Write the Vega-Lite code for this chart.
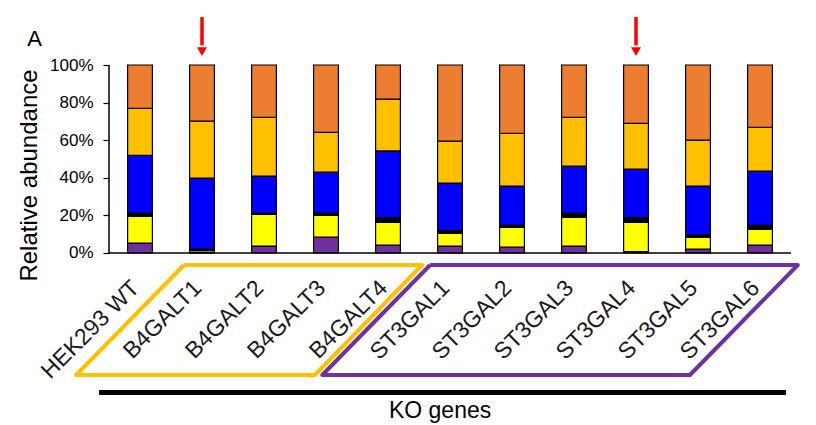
{
  "$schema": "https://vega.github.io/schema/vega-lite/v6.json",
  "width": 682,
  "height": 335,
  "autosize": {"type": "none"},
  "padding": {"left": 109, "top": 65, "right": 25, "bottom": 25},
  "background": "white",
  "config": {
    "view": {"stroke": null},
    "font": "Liberation Sans",
    "text": {"font": "Liberation Sans", "color": "black"}
  },
  "datasets": {
    "abundance": [
      {"gene": "HEK293 WT", "g1": 5.3, "g2": 14.2, "g3": 1.7, "g4": 30.8, "g5": 25.0, "g6": 23.0},
      {"gene": "B4GALT1", "g1": 0.2, "g2": 1.1, "g3": 0.8, "g4": 37.7, "g5": 30.3, "g6": 29.9},
      {"gene": "B4GALT2", "g1": 3.7, "g2": 16.8, "g3": 0.7, "g4": 19.7, "g5": 31.3, "g6": 27.8},
      {"gene": "B4GALT3", "g1": 8.5, "g2": 11.5, "g3": 1.2, "g4": 21.8, "g5": 21.2, "g6": 35.8},
      {"gene": "B4GALT4", "g1": 4.2, "g2": 12.1, "g3": 2.5, "g4": 35.5, "g5": 27.5, "g6": 18.2},
      {"gene": "ST3GAL1", "g1": 3.7, "g2": 6.7, "g3": 1.5, "g4": 25.3, "g5": 22.3, "g6": 40.5},
      {"gene": "ST3GAL2", "g1": 3.2, "g2": 10.4, "g3": 1.3, "g4": 20.7, "g5": 28.1, "g6": 36.3},
      {"gene": "ST3GAL3", "g1": 3.7, "g2": 15.2, "g3": 2.3, "g4": 25.0, "g5": 26.0, "g6": 27.8},
      {"gene": "ST3GAL4", "g1": 0.7, "g2": 15.6, "g3": 2.5, "g4": 25.8, "g5": 24.4, "g6": 31.0},
      {"gene": "ST3GAL5", "g1": 2.1, "g2": 6.2, "g3": 1.3, "g4": 26.0, "g5": 24.4, "g6": 40.0},
      {"gene": "ST3GAL6", "g1": 4.2, "g2": 8.4, "g3": 2.3, "g4": 28.6, "g5": 23.4, "g6": 33.1}
    ],
    "frames": [
      {"family": "B4GALT", "vertex": 1, "pos": 1.21, "level": -6.38},
      {"family": "B4GALT", "vertex": 2, "pos": 5.05, "level": -6.38},
      {"family": "B4GALT", "vertex": 3, "pos": 3.32, "level": -64.9},
      {"family": "B4GALT", "vertex": 4, "pos": -0.53, "level": -64.9},
      {"family": "B4GALT", "vertex": 5, "pos": 1.21, "level": -6.38},
      {"family": "ST3GAL", "vertex": 1, "pos": 5.18, "level": -6.38},
      {"family": "ST3GAL", "vertex": 2, "pos": 11.11, "level": -6.38},
      {"family": "ST3GAL", "vertex": 3, "pos": 9.37, "level": -64.9},
      {"family": "ST3GAL", "vertex": 4, "pos": 3.44, "level": -64.9},
      {"family": "ST3GAL", "vertex": 5, "pos": 5.18, "level": -6.38}
    ],
    "marked": [
      {"gene": "B4GALT1"},
      {"gene": "ST3GAL4"}
    ]
  },
  "layer": [
    {
      "data": {"name": "abundance"},
      "transform": [{"fold": ["g1", "g2", "g3", "g4", "g5", "g6"], "as": ["glycan", "share"]}],
      "mark": {"type": "bar", "stroke": "black", "strokeWidth": 1.2},
      "encoding": {
        "x": {
          "field": "gene", "type": "nominal", "sort": null,
          "scale": {"paddingInner": 0.6, "paddingOuter": 0.3},
          "axis": null
        },
        "y": {
          "field": "share", "type": "quantitative", "stack": "zero",
          "scale": {"domain": [-78.2, 100], "nice": false, "zero": false},
          "axis": {
            "values": [0, 20, 40, 60, 80, 100],
            "labelExpr": "datum.value + '%'",
            "domain": false,
            "grid": false,
            "tickSize": 6,
            "tickWidth": 1.2,
            "tickColor": "black",
            "labelFontSize": 17,
            "labelPadding": 10,
            "labelColor": "black",
            "labelFont": "Liberation Sans",
            "title": "Relative abundance",
            "titleFont": "Liberation Sans",
            "titleFontSize": 24,
            "titleFontWeight": "normal",
            "titleColor": "black",
            "titleBaseline": "alphabetic",
            "titleX": -73,
            "titleY": 110
          }
        },
        "color": {
          "field": "glycan", "type": "nominal",
          "scale": {
            "domain": ["g1", "g2", "g3", "g4", "g5", "g6"],
            "range": ["#7030A0", "#FFFF00", "#000000", "#0000FF", "#FFC000", "#ED7D31"]
          },
          "legend": null
        },
        "order": {"field": "glycan", "sort": "ascending"}
      }
    },
    {
      "data": {"values": [{}]},
      "mark": {"type": "rule", "color": "black", "strokeWidth": 1.5},
      "encoding": {
        "x": {"datum": 0, "type": "quantitative", "scale": {"domain": [0, 11], "nice": false, "zero": false}, "axis": null},
        "y": {"datum": 0, "type": "quantitative", "scale": {"domain": [-78.2, 100], "nice": false, "zero": false}},
        "y2": {"datum": 100}
      }
    },
    {
      "data": {"values": [{}]},
      "mark": {"type": "rule", "color": "black", "strokeWidth": 1.5},
      "encoding": {
        "x": {"datum": 0, "type": "quantitative", "scale": {"domain": [0, 11], "nice": false, "zero": false}, "axis": null},
        "x2": {"datum": 11},
        "y": {"datum": 0, "type": "quantitative", "scale": {"domain": [-78.2, 100], "nice": false, "zero": false}}
      }
    },
    {
      "data": {"name": "abundance"},
      "mark": {"type": "text", "angle": -45, "align": "right", "baseline": "middle", "fontSize": 23, "font": "Liberation Sans", "dx": -6, "color": "#1a1a1a"},
      "encoding": {
        "x": {
          "field": "gene", "type": "nominal", "sort": null,
          "scale": {"paddingInner": 0.6, "paddingOuter": 0.3},
          "axis": null
        },
        "y": {"datum": -14.5, "type": "quantitative", "scale": {"domain": [-78.2, 100], "nice": false, "zero": false}},
        "text": {"field": "gene", "type": "nominal"}
      }
    },
    {
      "data": {"name": "frames"},
      "mark": {"type": "line", "strokeWidth": 4, "strokeJoin": "round"},
      "encoding": {
        "x": {"field": "pos", "type": "quantitative", "scale": {"domain": [0, 11], "nice": false, "zero": false}, "axis": null},
        "y": {"field": "level", "type": "quantitative", "scale": {"domain": [-78.2, 100], "nice": false, "zero": false}},
        "stroke": {
          "field": "family", "type": "nominal",
          "scale": {"domain": ["B4GALT", "ST3GAL"], "range": ["#FFC000", "#7030A0"]},
          "legend": null
        },
        "order": {"field": "vertex", "type": "quantitative"}
      }
    },
    {
      "data": {"values": [{}]},
      "mark": {"type": "rule", "color": "black", "strokeWidth": 5},
      "encoding": {
        "x": {"datum": -0.16, "type": "quantitative", "scale": {"domain": [0, 11], "nice": false, "zero": false}, "axis": null},
        "x2": {"datum": 10.92},
        "y": {"datum": -74.2, "type": "quantitative", "scale": {"domain": [-78.2, 100], "nice": false, "zero": false}}
      }
    },
    {
      "data": {"values": [{}]},
      "mark": {"type": "text", "align": "center", "baseline": "alphabetic", "fontSize": 23, "font": "Liberation Sans", "text": "KO genes"},
      "encoding": {
        "x": {"datum": 5.34, "type": "quantitative", "scale": {"domain": [0, 11], "nice": false, "zero": false}, "axis": null},
        "y": {"datum": -87.8, "type": "quantitative", "scale": {"domain": [-78.2, 100], "nice": false, "zero": false}}
      }
    },
    {
      "data": {"values": [{}]},
      "mark": {"type": "text", "align": "center", "baseline": "alphabetic", "fontSize": 22, "font": "Liberation Sans", "text": "A"},
      "encoding": {
        "x": {"datum": -1.2, "type": "quantitative", "scale": {"domain": [0, 11], "nice": false, "zero": false}, "axis": null},
        "y": {"datum": 110.1, "type": "quantitative", "scale": {"domain": [-78.2, 100], "nice": false, "zero": false}}
      }
    },
    {
      "data": {"name": "marked"},
      "mark": {"type": "rule", "color": "#FF0000", "strokeWidth": 3.5},
      "encoding": {
        "x": {
          "field": "gene", "type": "nominal",
          "scale": {
            "domain": ["HEK293 WT", "B4GALT1", "B4GALT2", "B4GALT3", "B4GALT4", "ST3GAL1", "ST3GAL2", "ST3GAL3", "ST3GAL4", "ST3GAL5", "ST3GAL6"],
            "paddingInner": 0.6, "paddingOuter": 0.3
          },
          "axis": null
        },
        "y": {"datum": 125.5, "type": "quantitative", "scale": {"domain": [-78.2, 100], "nice": false, "zero": false}},
        "y2": {"datum": 110.5}
      }
    },
    {
      "data": {"name": "marked"},
      "mark": {"type": "point", "shape": "triangle-down", "filled": true, "color": "#FF0000", "size": 100, "opacity": 1, "strokeWidth": 0},
      "encoding": {
        "x": {
          "field": "gene", "type": "nominal",
          "scale": {
            "domain": ["HEK293 WT", "B4GALT1", "B4GALT2", "B4GALT3", "B4GALT4", "ST3GAL1", "ST3GAL2", "ST3GAL3", "ST3GAL4", "ST3GAL5", "ST3GAL6"],
            "paddingInner": 0.6, "paddingOuter": 0.3
          },
          "axis": null
        },
        "y": {"datum": 107.1, "type": "quantitative", "scale": {"domain": [-78.2, 100], "nice": false, "zero": false}}
      }
    }
  ],
  "resolve": {"scale": {"x": "independent"}}
}
